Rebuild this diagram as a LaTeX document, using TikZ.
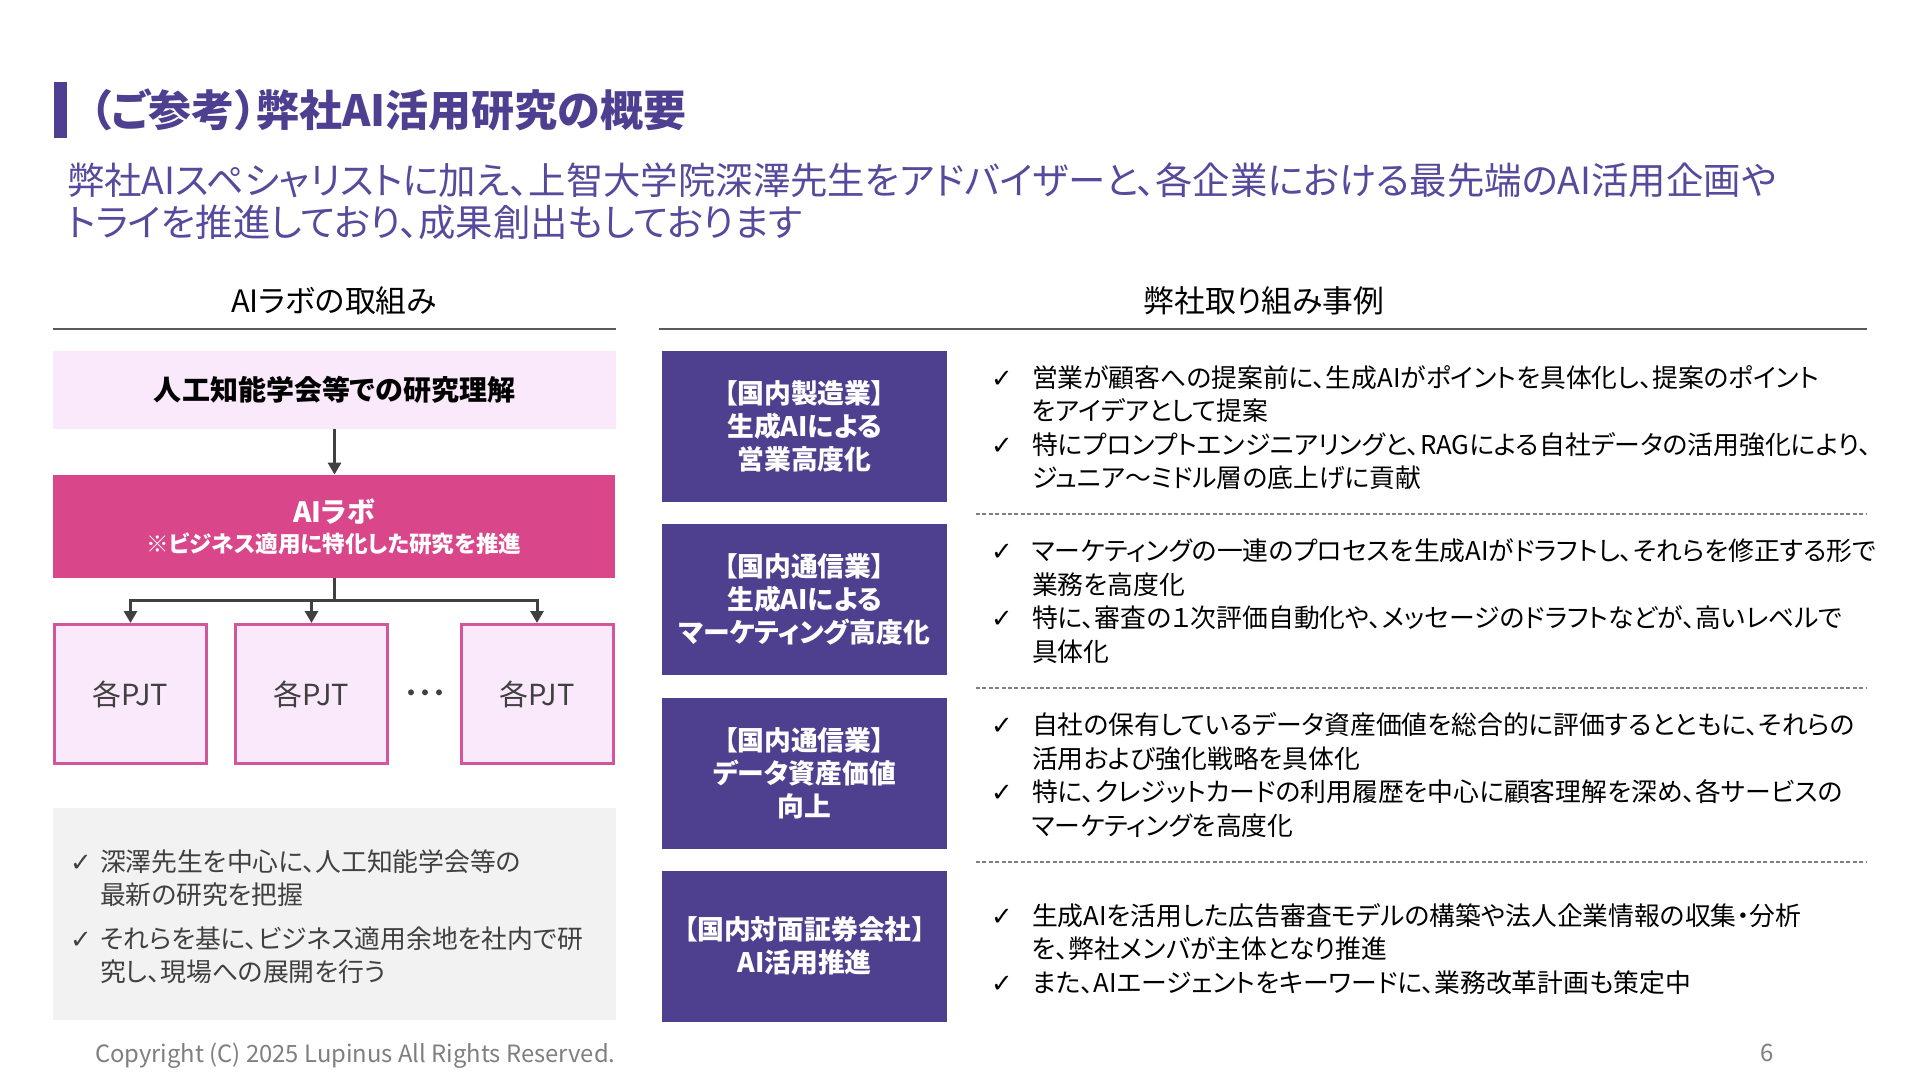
\documentclass[tikz,border=0pt]{standalone}
\usepackage{fontspec}
\setmainfont{Noto Sans CJK JP}[RawFeature=+palt]
\newfontfamily\ckfont{DejaVu Sans}
\usetikzlibrary{arrows.meta,calc}
\definecolor{ttl}{HTML}{4E3F91}
\definecolor{subttl}{HTML}{574A9C}
\definecolor{boxpur}{HTML}{4F3F8F}
\definecolor{mag}{HTML}{D9468A}
\definecolor{magline}{HTML}{D4569A}
\definecolor{lpink}{HTML}{F9E9FA}
\definecolor{lgray}{HTML}{F2F2F2}
\definecolor{dgray}{HTML}{404040}
\definecolor{rulegray}{HTML}{595959}
\definecolor{dashgray}{HTML}{7F7F7F}
\newcommand{\fsz}[2]{\fontsize{#1}{#2}\selectfont}
\newcommand{\ck}{{\ckfont ✓}}
\newcommand{\bul}{\makebox[20.5pt][l]{\ck}}
\newcommand{\ind}{\hspace*{20.5pt}}
\newcommand{\lbul}{\makebox[15pt][l]{\ck}}
\newcommand{\lind}{\hspace*{15pt}}
\begin{document}
\begin{tikzpicture}[x=0.5pt,y=-0.5pt,
  txt/.style={inner sep=0pt,outer sep=0pt},
  purbox/.style={fill=boxpur,draw=none,minimum width=142.5pt,minimum height=75.5pt,
    inner sep=0pt,text=white,font=\fsz{13.4}{16.5}\bfseries,align=center},
  pjt/.style={fill=lpink,draw=magline,line width=1.5pt,minimum width=76pt,minimum height=69.5pt,
    inner sep=0pt,text=dgray,font=\fsz{14.5}{18}},
  bultxt/.style={txt,anchor=west,align=left,font=\fsz{12.9}{16.75},text=black},
  conn/.style={draw=dgray,line width=1.5pt},
  arr/.style={conn,-{Triangle[length=6pt,width=6.5pt]}},
  hrule/.style={draw=rulegray,line width=1pt},
  dline/.style={draw=dashgray,line width=0.75pt,dash pattern=on 2pt off 1.2pt}
]
\useasboundingbox[fill=white] (0,0) rectangle (1920,1080);

% title
\fill[ttl] (54,82) rectangle (67,138);
\node[txt,anchor=west,text=ttl,font=\fsz{21.5}{24}\bfseries] (title) at (90,110) {（ご参考）弊社AI活用研究の概要};
\node[txt,anchor=west,text=subttl,font=\fsz{18.7}{21}] (sub1) at (67,180) {弊社AIスペシャリストに加え、上智大学院深澤先生をアドバイザーと、各企業における最先端のAI活用企画や};
\node[txt,anchor=west,text=subttl,font=\fsz{18.7}{21}] (sub2) at (67,222) {トライを推進しており、成果創出もしております};

% section headers
\node[txt,font=\fsz{15.4}{19}] (hl) at (334,301) {AIラボの取組み};
\node[txt,font=\fsz{15.4}{19}] (hr) at (1264,301) {弊社取り組み事例};
\draw[hrule] (53,329) -- (616,329);
\draw[hrule] (659,329) -- (1867,329);

% left column
\node[fill=lpink,minimum width=281.5pt,minimum height=39pt,inner sep=0pt,font=\fsz{14}{18}\bfseries] (b1) at (334.5,390) {人工知能学会等での研究理解};
\node[fill=mag,minimum width=281pt,minimum height=51.5pt,inner sep=0pt,text=white,align=center,font=\fsz{11.3}{15}\bfseries] (b2) at (334,526.5) {{\fsz{14}{15}AIラボ}\\※ビジネス適用に特化した研究を推進};
\node[pjt] (pa) at (130.5,694) {各PJT};
\node[pjt] (pb) at (311.5,694) {各PJT};
\node[pjt] (pc) at (537,694) {各PJT};
\node[txt,font=\fsz{14}{16}\bfseries,text=dgray] (dots) at (425,697) {･･･};

\draw[arr] (b1.south) -- (b1.south |- b2.north);
\coordinate (jn) at (334,600);
\draw[conn] (b2.south) -- (jn);
\draw[arr] (jn) -| (pa.north);
\draw[arr] (jn) -| (pc.north);
\draw[arr] (pb.north |- jn) -- (pb.north);

\node[fill=lgray,minimum width=281.5pt,minimum height=106pt,inner sep=0pt] (gbox) at (334.5,914) {};
\node[bultxt,text=dgray,font=\fsz{12.9}{16.5}] (gtxt) at (70,917) {\lbul 深澤先生を中心に、人工知能学会等の\\\lind 最新の研究を把握\\[5.5pt]\lbul それらを基に、ビジネス適用余地を社内で研\\\lind 究し、現場への展開を行う};

% right column
\node[purbox] (p1) at (804.5,426.5) {【国内製造業】\\生成AIによる\\営業高度化};
\node[purbox] (p2) at (804.5,599.5) {【国内通信業】\\生成AIによる\\マーケティング高度化};
\node[purbox] (p3) at (804.5,773.5) {【国内通信業】\\データ資産価値\\向上};
\node[purbox] (p4) at (804.5,946) {【国内対面証券会社】\\AI活用推進};

\node[bultxt] (r1) at (991,427.5) {\bul 営業が顧客への提案前に、生成AIがポイントを具体化し、提案のポイント\\\ind をアイデアとして提案\\\bul 特にプロンプトエンジニアリングと、RAGによる自社データの活用強化により、\\\ind ジュニア～ミドル層の底上げに貢献};
\node[bultxt] (r2) at (991,601) {\bul マーケティングの一連のプロセスを生成AIがドラフトし、それらを修正する形で\\\ind 業務を高度化\\\bul 特に、審査の１次評価自動化や、メッセージのドラフトなどが、高いレベルで\\\ind 具体化};
\node[bultxt] (r3) at (991,775) {\bul 自社の保有しているデータ資産価値を総合的に評価するとともに、それらの\\\ind 活用および強化戦略を具体化\\\bul 特に、クレジットカードの利用履歴を中心に顧客理解を深め、各サービスの\\\ind マーケティングを高度化};
\node[bultxt] (r4) at (991,949) {\bul 生成AIを活用した広告審査モデルの構築や法人企業情報の収集・分析\\\ind を、弊社メンバが主体となり推進\\\bul また、AIエージェントをキーワードに、業務改革計画も策定中};

\draw[dline] (976,514) -- (1867,514);
\draw[dline] (976,688) -- (1867,688);
\draw[dline] (976,862) -- (1867,862);

% footer
\node[txt,anchor=west,text=dashgray,font=\fsz{11.9}{13}] (copy) at (95,1056) {Copyright (C) 2025 Lupinus All Rights Reserved.};
\node[txt,text=dashgray,font=\fsz{12}{14}] (pg) at (1767,1053) {6};
\end{tikzpicture}
\end{document}
